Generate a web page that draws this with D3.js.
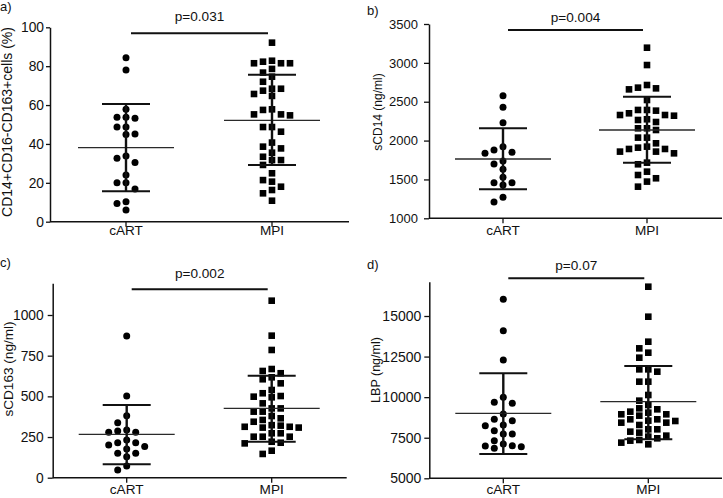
<!DOCTYPE html>
<html>
<head>
<meta charset="utf-8">
<script src="https://cdn.jsdelivr.net/npm/d3@7"></script>
<style>
  html, body { margin: 0; padding: 0; background: #fff; }
  svg { display: block; }
  text { font-family: "Liberation Sans", Arial, Helvetica, sans-serif; fill: #111; }
</style>
</head>
<body>
<svg id="chart" width="723" height="498"></svg>
<script>
// ---------- data ----------
const categories = ["cART", "MPI"];
const panelTags = ["a)", "b)", "c)", "d)"];
const yTitles = ["CD14+CD16-CD163+cells (%)", "sCD14 (ng/ml)", "sCD163 (ng/ml)", "LBP (ng/ml)"];
const pLabels = ["p=0.031", "p=0.004", "p=0.002", "p=0.07"];

const ticksA = [0, 20, 40, 60, 80, 100];
const ticksB = [1000, 1500, 2000, 2500, 3000, 3500];
const ticksC = [0, 250, 500, 750, 1000];
const ticksD = [5000, 7500, 10000, 12500, 15000];

const aCART = [84.4, 78.0, 57.8, 53.7, 53.2, 53.7, 48.7, 48.7, 44.8, 45.1, 32.6, 33.8, 30.4, 24.0, 20.1, 20.1, 16.8, 10.3, 9.4, 6.0];
const aMPI = [92.1, 81.5, 82.3, 81.5, 82.8, 81.5, 78.6, 76.7, 74.6, 72.0, 68.4, 67.4, 65.7, 68.4, 64.7,
  57.5, 55.2, 54.7, 55.2, 57.8, 48.7, 46.3, 48.7, 40.7, 38.6, 35.5, 37.7, 33.4, 31.7, 31.7, 29.2, 24.9,
  21.4, 20.6, 18.0, 16.3, 14.6, 10.8];
const aMean = [38.1, 52.1], aLow = [15.6, 29.2], aHigh = [60.5, 75.6];

const bCART = [2578, 2428, 2231, 1922, 1849, 1836, 1879, 1738, 1699, 1630, 1527, 1459, 1429, 1459, 1270, 1210];
const bMPI = [3195, 2972, 2715, 2681, 2672, 2659, 2522, 2394, 2394, 2385, 2351, 2329, 2329, 2320, 2274, 2265,
  2239, 2158, 2158, 2136, 2038, 2038, 1965, 1922, 1909, 1892, 1892, 1858, 1858, 1836, 1716, 1695, 1600,
  1557, 1515, 1472, 1407];
const bMean = [1763, 2136], bLow = [1373, 1716], bHigh = [2158, 2565];

const cCART = [871, 502, 381, 338, 293, 279, 279, 287, 232, 215, 191, 201, 215, 176, 150, 129, 150, 72, 47];
const cMPI = [1088, 873, 785, 656, 668, 642, 617, 605, 580, 539, 502, 494, 498, 519, 457, 426, 406, 406, 426,
  365, 355, 379, 344, 323, 313, 308, 308, 313, 320, 273, 252, 273, 252, 252, 211, 221, 215, 146, 166];
const cMean = [266, 426], cLow = [82, 221], cHigh = [447, 627];

const dCART = [16025, 14095, 12288, 9989, 9681, 9619, 8962, 8552, 8634, 8244, 8285, 7936, 7731, 7731, 7320,
  7115, 6991, 6848, 6950, 7012];
const dMPI = [16805, 14957, 13417, 13007, 12740, 12432, 11713, 11570, 11713, 10954, 10954, 10133, 9784, 9517,
  9250, 9106, 9044, 9311, 8942, 8634, 8531, 8429, 8285, 8429, 8552, 8634, 8860, 8942, 8018, 7813, 7874,
  8018, 7566, 7361, 7197, 7320, 7464, 7628, 7094];
const dMean = [9003, 9722], dLow = [6499, 7402], dHigh = [11467, 11919];

// ---------- layout (positions / styles) ----------
const panels = [
  { groups: [aCART, aMPI], mean: aMean, low: aLow, high: aHigh, ticks: ticksA,
    tagX: 0, tagY: 11, axisX: 50, axisRight: 349, yBot: 221.7, yTopTick: 27.3, yAxisTop: 27.3,
    cx: [126, 272], pBarY: 33.3, pTextY: 21, xLabelY: 235, titleX: 11.5, titleY: 122, titleSize: 14,
    tickFont: 13.8, tickPad: 2, tickLen: 4 },
  { groups: [bCART, bMPI], mean: bMean, low: bLow, high: bHigh, ticks: ticksB,
    tagX: 367, tagY: 15, axisX: 429, axisRight: 722, yBot: 218.3, yTopTick: 24, yAxisTop: 24,
    cx: [503, 647], pBarY: 30, pTextY: 21.5, xLabelY: 235, titleX: 381.5, titleY: 112, titleSize: 12,
    tickFont: 13, tickPad: 6, tickLen: 5 },
  { groups: [cCART, cMPI], mean: cMean, low: cLow, high: cHigh, ticks: ticksC,
    tagX: 0, tagY: 267, axisX: 52.7, axisRight: 346.7, yBot: 477.7, yTopTick: 315, yAxisTop: 283.3,
    cx: [126.7, 271.7], pBarY: 289.3, pTextY: 278.3, xLabelY: 494, titleX: 12.5, titleY: 369, titleSize: 13.6,
    tickFont: 13.8, tickPad: 4, tickLen: 5 },
  { groups: [dCART, dMPI], mean: dMean, low: dLow, high: dHigh, ticks: ticksD,
    tagX: 367, tagY: 269, axisX: 429.3, axisRight: 722, yBot: 478.3, yTopTick: 316, yAxisTop: 281.7,
    cx: [503.3, 648.3], pBarY: 278.3, pTextY: 270, xLabelY: 494, titleX: 380, titleY: 370, titleSize: 12.5,
    tickFont: 14, tickPad: 3, tickLen: 5 }
];

const svg = d3.select("#chart");

function swarm(values, y, cx, step, minDy) {
  const pts = values.map(v => ({ v, y: y(v) })).sort((a, b) => a.y - b.y);
  const placed = [];
  pts.forEach(p => {
    for (let k = 0; k < 30; k++) {
      const off = k === 0 ? 0 : (k % 2 === 1 ? -Math.ceil(k / 2) : Math.ceil(k / 2));
      if (!placed.some(q => q.col === off && Math.abs(q.y - p.y) < minDy)) { p.col = off; break; }
    }
    placed.push(p);
  });
  return placed.map(p => ({ ...p, x: cx + p.col * step }));
}

panels.forEach((P, i) => {
  const g = svg.append("g");
  const lo = P.ticks[0], hiTick = P.ticks[P.ticks.length - 1];
  const y = d3.scaleLinear().domain([lo, hiTick]).range([P.yBot, P.yTopTick]);
  const topVal = y.invert(P.yAxisTop);
  y.domain([lo, topVal]).range([P.yBot, P.yAxisTop]);
  const x = d3.scalePoint().domain(categories).range(P.cx).padding(0);

  // y axis
  const ya = g.append("g").attr("transform", `translate(${P.axisX},0)`)
    .call(d3.axisLeft(y).tickValues(P.ticks).tickFormat(d3.format("d"))
      .tickSize(P.tickLen).tickSizeOuter(0).tickPadding(P.tickPad));
  ya.select(".domain").attr("stroke", "#111").attr("stroke-width", 1.5);
  ya.selectAll(".tick line").attr("stroke", "#111").attr("stroke-width", 1.3);
  ya.selectAll(".tick text").attr("font-size", P.tickFont).attr("fill", "#111")
    .attr("font-family", "Liberation Sans, Arial, sans-serif");

  // x axis
  const xa = g.append("g").attr("transform", `translate(0,${P.yBot})`);
  xa.append("line").attr("x1", P.axisX).attr("x2", P.axisRight).attr("y1", 0).attr("y2", 0)
    .attr("stroke", "#111").attr("stroke-width", 1.5);
  categories.forEach(c => {
    xa.append("line").attr("x1", x(c)).attr("x2", x(c)).attr("y1", 0).attr("y2", 5)
      .attr("stroke", "#111").attr("stroke-width", 1.3);
    g.append("text").attr("x", x(c)).attr("y", P.xLabelY).attr("text-anchor", "middle")
      .attr("font-size", 13.6).text(c);
  });

  // y title
  g.append("text").attr("transform", `translate(${P.titleX},${P.titleY}) rotate(-90)`)
    .attr("text-anchor", "middle").attr("font-size", P.titleSize).text(yTitles[i]);

  // tag
  g.append("text").attr("x", P.tagX).attr("y", P.tagY).attr("font-size", 13).text(panelTags[i]);

  // points
  P.groups.forEach((vals, gi) => {
    const pts = swarm(vals, y, x(categories[gi]), 9, 7);
    if (gi === 0) {
      g.selectAll(null).data(pts).enter().append("circle")
        .attr("cx", d => d.x).attr("cy", d => d.y).attr("r", 3.5).attr("fill", "#000");
    } else {
      g.selectAll(null).data(pts).enter().append("rect")
        .attr("x", d => d.x - 3.3).attr("y", d => d.y - 3.3).attr("width", 6.6).attr("height", 6.6).attr("fill", "#000");
    }
  });

  // mean & SD
  categories.forEach((c, gi) => {
    const cx = x(c);
    g.append("line").attr("x1", cx - 48).attr("x2", cx + 48).attr("y1", y(P.mean[gi])).attr("y2", y(P.mean[gi]))
      .attr("stroke", "#2a2a2a").attr("stroke-width", 1.4);
    g.append("line").attr("x1", cx).attr("x2", cx).attr("y1", y(P.low[gi])).attr("y2", y(P.high[gi]))
      .attr("stroke", "#111").attr("stroke-width", 2.4);
    [P.low[gi], P.high[gi]].forEach(v => {
      g.append("line").attr("x1", cx - 24).attr("x2", cx + 24).attr("y1", y(v)).attr("y2", y(v))
        .attr("stroke", "#111").attr("stroke-width", 2);
    });
  });

  // p-value bar
  const bx1 = x(categories[0]) + 5, bx2 = x(categories[1]) - 4;
  g.append("line").attr("x1", bx1).attr("x2", bx2).attr("y1", P.pBarY).attr("y2", P.pBarY)
    .attr("stroke", "#111").attr("stroke-width", 2);
  g.append("text").attr("x", (bx1 + bx2) / 2).attr("y", P.pTextY).attr("text-anchor", "middle")
    .attr("font-size", 13.6).text(pLabels[i]);
});
</script>
</body>
</html>
